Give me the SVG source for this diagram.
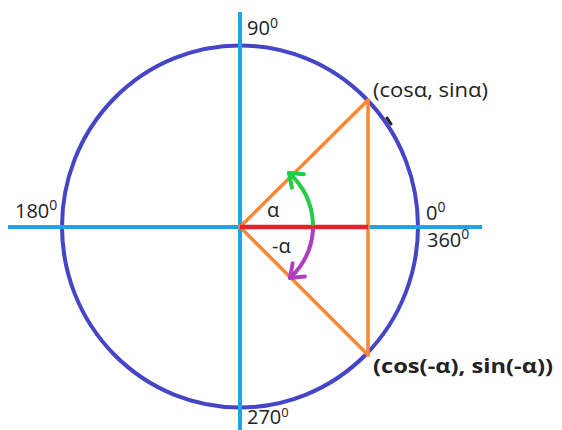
<svg xmlns="http://www.w3.org/2000/svg" width="562" height="430" viewBox="0 0 562 430">
  <style>
    .lbl { font-family: "Open Sans", "DejaVu Sans", sans-serif; font-size: 20px; fill: #222; }
    .axis { stroke: #1AA5EA; stroke-width: 4; fill: none; }
    .tri { stroke: #FF8630; stroke-width: 3.5; fill: none; stroke-linecap: round; }
  </style>
  <defs>
    <marker id="arrG" markerUnits="userSpaceOnUse" markerWidth="30" markerHeight="30" refX="0" refY="0" viewBox="-15 -15 30 30" orient="auto" overflow="visible">
      <path d="M-12,-9 L0,0 L-12,9" fill="none" stroke="#22CC44" stroke-width="4" stroke-linecap="round" stroke-linejoin="round"/>
    </marker>
    <marker id="arrP" markerUnits="userSpaceOnUse" markerWidth="30" markerHeight="30" refX="0" refY="0" viewBox="-15 -15 30 30" orient="auto" overflow="visible">
      <path d="M-12,-9 L0,0 L-12,9" fill="none" stroke="#B03EC0" stroke-width="4" stroke-linecap="round" stroke-linejoin="round"/>
    </marker>
  </defs>
  <rect width="562" height="430" fill="#fff"/>

  <g id="circle">
    <ellipse cx="240" cy="226.5" rx="178" ry="181" fill="none" stroke="#4545C8" stroke-width="4"/>
  </g>

  <g id="axes">
    <line class="axis" x1="240" y1="12" x2="240" y2="430"/>
    <line class="axis" x1="8" y1="227" x2="482" y2="227"/>
  </g>

  <g id="connectors">
    <line class="tri" x1="240" y1="227" x2="368" y2="100"/>
    <line class="tri" x1="240" y1="227" x2="368" y2="355"/>
    <line class="tri" x1="368" y1="100" x2="368" y2="355"/>
    <line x1="240" y1="227" x2="368" y2="227" stroke="#E8202A" stroke-width="4.5"/>
    <path d="M313,224 A73,73 0 0,0 289,173" fill="none" stroke="#22CC44" stroke-width="4" stroke-linecap="round" marker-end="url(#arrG)"/>
    <path d="M313,230 A73,73 0 0,1 290,278" fill="none" stroke="#B03EC0" stroke-width="4" stroke-linecap="round" marker-end="url(#arrP)"/>
    <line x1="387" y1="118" x2="391" y2="124" stroke="#222" stroke-width="3" stroke-linecap="round"/>
  </g>

  <g id="labels">
    <text class="lbl" x="247" y="35" font-size="19">90<tspan font-size="14" dy="-7">0</tspan></text>
    <text class="lbl" x="15" y="218">180<tspan font-size="14" dy="-8">0</tspan></text>
    <text class="lbl" x="426" y="220">0<tspan font-size="14" dy="-8">0</tspan></text>
    <text class="lbl" x="427" y="247">360<tspan font-size="14" dy="-8">0</tspan></text>
    <text class="lbl" x="247" y="424" font-size="18.5">270<tspan font-size="13" dy="-7">0</tspan></text>
    <text class="lbl" x="267" y="217" font-size="22">α</text>
    <text class="lbl" x="272" y="253" font-size="22">-α</text>
    <text class="lbl" x="373" y="97" textLength="115" lengthAdjust="spacingAndGlyphs">(cosα, sinα)</text>
    <text class="lbl" x="373" y="373" font-weight="bold" textLength="180" lengthAdjust="spacingAndGlyphs">(cos(-α), sin(-α))</text>
  </g>
</svg>
